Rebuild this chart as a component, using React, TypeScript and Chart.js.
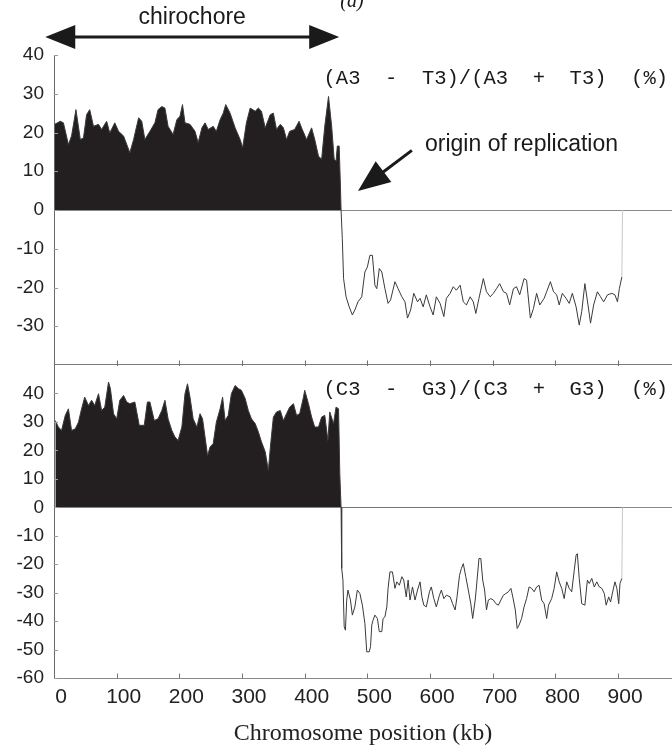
import React, { useEffect, useRef } from 'react';
import { Chart, registerables } from 'chart.js';

Chart.register(...registerables);

// ---------- data ----------
const X_TICKS = [0, 100, 200, 300, 400, 500, 600, 700, 800, 900];
const X_MIN = 0;
const X_MAX = 986;

const TOP_Y_TICKS = [-30, -20, -10, 0, 10, 20, 30, 40];
const BOTTOM_Y_TICKS = [-60, -50, -40, -30, -20, -10, 0, 10, 20, 30, 40];

// (A3 - T3)/(A3 + T3) skew, % ; positions in kb
const AT_POS = [
  1, 10, 15, 23, 28, 35, 42, 47, 52, 57, 63, 71, 76, 84, 89, 97, 103, 111, 121, 127,
  135, 140, 145, 153, 161, 166, 172, 177, 182, 190, 196, 201, 205, 209, 217, 225, 230, 236, 241, 246,
  254, 259, 265, 270, 274, 281, 289, 297, 301, 307, 313, 321, 326, 331, 337, 345, 350, 355, 361, 366,
  371, 376, 384, 391, 395, 403, 411, 416, 422, 427, 432, 438, 443, 447, 450, 452, 455, 457, 458,
  460, 462, 466, 471, 476, 480, 485, 491, 496, 500, 504, 508, 512, 515, 519, 523, 528, 533, 537, 544,
  549, 555, 560, 564, 569, 574, 580, 584, 589, 594, 600, 605, 610, 616, 622, 626, 632, 637, 642, 648,
  653, 658, 664, 669, 673, 678, 685, 690, 696, 701, 706, 711, 717, 722, 727, 733, 738, 743, 750, 754,
  760, 765, 770, 775, 782, 786, 792, 797, 802, 806, 811, 817, 822, 827, 833, 838, 842, 847, 852, 856,
  861, 867, 872, 877, 883, 890, 895, 899, 902, 906, 907,
];
const AT_SKEW = [
  22.1, 22.9, 22.5, 16.9, 19.1, 25.9, 18.2, 18.6, 24.6, 25.9, 21.6, 22.1, 20.8, 22.9, 19.9, 22.5, 20.3, 19.1, 14.8, 18.2,
  23.8, 22.9, 18.2, 20.3, 22.5, 25.9, 26.7, 26.3, 21.6, 19.5, 23.3, 24.2, 27.2, 22.5, 22.1, 20.3, 17.4, 21.2, 22.5, 20.8,
  21.6, 20.3, 23.3, 25.0, 27.2, 25.0, 21.2, 18.2, 16.1, 22.5, 26.3, 25.5, 26.3, 25.5, 21.2, 24.6, 25.0, 20.8, 22.1, 21.2,
  18.2, 20.3, 20.8, 22.9, 21.2, 18.2, 21.2, 18.2, 13.9, 13.1, 21.6, 29.3, 21.6, 13.1, 12.6, 16.5, 16.5, 6.2, 0,
  -7.4, -17.7, -22.4, -25.0, -27.1, -25.8, -23.7, -22.4, -16.0, -14.7, -11.7, -11.7, -19.4, -20.3, -15.1, -16.0, -20.3, -24.1, -23.2, -18.5,
  -20.3, -22.4, -23.7, -27.9, -25.8, -21.5, -23.7, -22.8, -25.0, -21.9, -25.0, -27.1, -22.4, -24.1, -27.5, -22.8, -21.5, -19.8, -20.7, -19.4,
  -23.7, -24.5, -22.4, -23.7, -26.7, -22.8, -17.7, -21.1, -22.4, -21.5, -20.3, -19.0, -21.1, -21.5, -24.5, -20.3, -19.8, -21.9, -17.7, -18.1,
  -27.9, -25.4, -21.5, -24.5, -22.8, -21.1, -18.5, -21.1, -21.9, -24.5, -21.5, -22.8, -24.1, -21.5, -25.0, -29.7, -26.2, -19.0, -24.5, -29.2,
  -24.5, -21.1, -22.4, -23.7, -21.9, -21.5, -21.9, -23.7, -20.3, -17.3, 0,
];

// (C3 - G3)/(C3 + G3) skew, % ; positions in kb
const CG_POS = [
  2, 7, 12, 18, 23, 28, 34, 39, 44, 49, 55, 60, 65, 71, 76, 81, 87, 90, 95, 100,
  105, 111, 116, 121, 129, 136, 144, 149, 153, 160, 166, 172, 177, 182, 188, 193, 198, 204, 209, 213,
  217, 222, 228, 233, 237, 241, 245, 249, 254, 259, 265, 269, 273, 278, 283, 289, 294, 299, 305, 310,
  315, 321, 326, 331, 337, 342, 346, 350, 355, 361, 366, 371, 376, 382, 387, 392, 398, 400, 406, 411,
  416, 422, 427, 432, 437, 440, 446, 450, 454, 456, 458,
  459, 461, 463, 465, 467, 469, 473, 476, 480, 484, 488, 492, 496, 499, 503, 505, 507, 509, 512, 516,
  519, 523, 525, 528, 531, 533, 536, 540, 544, 547, 551, 555, 558, 562, 565, 568, 572, 576, 580, 584,
  587, 590, 594, 599, 602, 606, 610, 615, 618, 622, 626, 632, 636, 640, 643, 647, 650, 653, 657, 661,
  665, 668, 672, 674, 678, 681, 684, 687, 690, 693, 697, 701, 705, 709, 713, 717, 721, 725, 729, 732,
  736, 739, 742, 746, 750, 754, 758, 762, 766, 770, 774, 778, 782, 786, 789, 794, 798, 802, 806, 810,
  814, 818, 822, 826, 830, 833, 835, 838, 842, 847, 851, 854, 858, 862, 866, 870, 874, 878, 881, 885,
  888, 892, 895, 898, 901, 903, 906, 907,
];
const CG_SKEW = [
  30.5, 28.2, 27.0, 32.3, 34.6, 27.0, 27.6, 29.9, 34.6, 38.7, 35.8, 37.6, 35.8, 39.9, 34.0, 35.2, 44.0, 41.7, 32.9, 31.1,
  37.6, 39.3, 37.0, 36.4, 37.0, 28.8, 28.8, 37.0, 37.0, 30.5, 31.1, 34.0, 37.6, 31.1, 27.0, 24.7, 23.5, 28.2, 39.9, 43.4,
  38.7, 31.1, 28.2, 32.9, 31.1, 24.7, 18.2, 21.2, 22.4, 29.9, 34.6, 38.7, 30.5, 32.3, 39.9, 42.8, 41.7, 41.1, 38.2, 34.0,
  31.1, 29.4, 26.5, 23.0, 19.5, 13.0, 23.0, 31.7, 33.5, 34.0, 30.5, 32.9, 35.2, 36.4, 32.3, 32.9, 38.7, 41.1, 36.4, 31.7,
  28.2, 28.2, 31.7, 32.3, 23.5, 33.5, 29.4, 35.2, 34.6, 11.8, 0,
  -21.5, -25.6, -42.0, -43.2, -32.6, -29.1, -32.6, -37.9, -35.0, -29.1, -30.3, -34.4, -40.8, -50.8, -50.8, -49.0, -41.4, -39.7, -37.9, -39.1,
  -43.7, -43.7, -39.1, -38.5, -35.0, -28.5, -22.7, -22.7, -28.5, -26.2, -27.4, -24.4, -25.6, -31.5, -25.6, -32.6, -28.0, -32.6, -29.1, -26.2,
  -31.5, -34.4, -35.0, -29.7, -28.0, -32.1, -35.0, -30.9, -29.1, -32.1, -30.9, -31.5, -33.9, -36.1, -31.5, -23.9, -21.5, -19.8, -24.4, -29.1,
  -33.9, -39.1, -32.6, -28.0, -18.0, -18.0, -25.6, -29.1, -36.1, -32.6, -32.1, -32.6, -33.9, -34.4, -32.6, -30.9, -30.3, -29.7, -28.5, -31.5,
  -36.1, -42.6, -41.4, -39.1, -35.0, -32.1, -28.0, -28.5, -29.7, -28.0, -27.4, -32.6, -33.9, -39.1, -34.4, -32.1, -28.5, -22.7, -26.2, -28.5,
  -32.1, -26.2, -28.5, -29.7, -22.2, -16.8, -16.3, -25.0, -33.9, -34.4, -25.6, -26.8, -25.0, -28.0, -26.2, -28.0, -28.5, -30.3, -34.4, -31.5,
  -33.3, -29.1, -26.2, -28.5, -33.9, -26.8, -25.0, 0,
];

const TOP_LABEL = '(A3  -  T3)/(A3  +  T3)  (%)';
const BOTTOM_LABEL = '(C3  -  G3)/(C3  +  G3)  (%)';
const X_TITLE = 'Chromosome position (kb)';
const REGION_LABEL = 'chirochore';
const REGION_KB = [-14, 455];
const ORIGIN_LABEL = 'origin of replication';
const PANEL_TAG = '(a)';

// ---------- helpers ----------
const W = 672;
const TOP_H = 366;
const BOT_H = 383;
const AXIS_W = 54;
const X_AXIS_H = 70;
const SANS = '"Liberation Sans", Arial, Helvetica, sans-serif';
const MONO = '"Liberation Mono", "Courier New", monospace';

function makeDataset(xs: number[], ys: number[]) {
  return {
    data: xs.map((x, i) => ({ x, y: ys[i] })),
    borderColor: '#3a3a3a',
    borderWidth: 1,
    pointRadius: 0,
    tension: 0,
    fill: { target: 'origin', above: '#231f20', below: 'rgba(0,0,0,0)' },
    segment: {
      borderColor: (c: any) => (c.p1.parsed.y === 0 && c.p0.parsed.x > 900 ? '#c8c8c8' : undefined),
    },
  };
}

function yScale(min: number, max: number, shown: number[]) {
  return {
    type: 'linear',
    min,
    max,
    afterFit: (s: any) => {
      s.width = AXIS_W;
      s.paddingTop = 0;
      s.paddingBottom = 0;
    },
    ticks: {
      stepSize: 10,
      padding: 10,
      color: '#222',
      font: { family: SANS, size: 19 },
      callback: (v: any) => (shown.includes(Number(v)) ? String(v) : null),
    },
    grid: { display: false, drawTicks: false },
    border: { display: true, color: '#6a6a6a', width: 1 },
  };
}

function line(ctx: CanvasRenderingContext2D, x1: number, y1: number, x2: number, y2: number) {
  ctx.beginPath();
  ctx.moveTo(x1, y1);
  ctx.lineTo(x2, y2);
  ctx.stroke();
}

function arrowHead(ctx: CanvasRenderingContext2D, tx: number, ty: number, fx: number, fy: number, len: number, half: number) {
  const dx = tx - fx, dy = ty - fy;
  const L = Math.hypot(dx, dy);
  const ux = dx / L, uy = dy / L;
  const bx = tx - ux * len, by = ty - uy * len;
  ctx.beginPath();
  ctx.moveTo(tx, ty);
  ctx.lineTo(bx - uy * half, by + ux * half);
  ctx.lineTo(bx + uy * half, by - ux * half);
  ctx.closePath();
  ctx.fill();
}

const zeroLinePlugin = {
  id: 'zeroLine',
  beforeDatasetsDraw(chart: any) {
    const { ctx, chartArea: a, scales } = chart;
    const y0 = Math.round(scales.y.getPixelForValue(0)) + 0.5;
    ctx.save();
    ctx.strokeStyle = '#8a8a8a';
    ctx.lineWidth = 1;
    line(ctx, a.left, y0, a.right, y0);
    ctx.restore();
  },
};

function innerYTicks(chart: any, values: number[]) {
  const { ctx, chartArea: a, scales } = chart;
  ctx.save();
  ctx.strokeStyle = '#9a9a9a';
  ctx.lineWidth = 1;
  values.forEach((v) => {
    const py = Math.round(scales.y.getPixelForValue(v)) + 0.5;
    line(ctx, a.left, py, a.left + 4, py);
  });
  ctx.restore();
}

const topDecor = {
  id: 'topDecor',
  afterDraw(chart: any) {
    const { ctx, chartArea: a, scales } = chart;
    const x = scales.x, y = scales.y;
    innerYTicks(chart, TOP_Y_TICKS);

    // divider between panels
    ctx.save();
    const yb = Math.round(a.bottom) - 0.5;
    ctx.strokeStyle = '#7a7a7a';
    ctx.lineWidth = 1;
    line(ctx, a.left, yb, a.right, yb);
    ctx.strokeStyle = '#707070';
    X_TICKS.forEach((v) => {
      if (v === 0) return;
      const px = Math.round(x.getPixelForValue(v)) + 0.5;
      line(ctx, px, yb - 4, px, yb + 4);
    });
    ctx.restore();

    ctx.save();
    ctx.fillStyle = '#1a1a1a';
    ctx.strokeStyle = '#1a1a1a';
    // chirochore double arrow
    const ay = 37;
    const lx = x.getPixelForValue(REGION_KB[0]);
    const rx = x.getPixelForValue(REGION_KB[1]);
    ctx.lineWidth = 3;
    line(ctx, lx + 20, ay, rx - 20, ay);
    arrowHead(ctx, lx, ay, rx, ay, 30, 12);
    arrowHead(ctx, rx, ay, lx, ay, 30, 12);

    ctx.textBaseline = 'middle';
    ctx.textAlign = 'center';
    ctx.font = `23px ${SANS}`;
    ctx.fillText(REGION_LABEL, (lx + rx) / 2, 18);

    ctx.font = 'italic 20px "Liberation Serif", serif';
    ctx.fillText(PANEL_TAG, 352, 2);

    // panel label
    ctx.textAlign = 'right';
    ctx.font = `20.5px ${MONO}`;
    ctx.fillText(TOP_LABEL, 668, 79);

    // origin of replication
    ctx.textAlign = 'left';
    ctx.font = `23px ${SANS}`;
    ctx.fillText(ORIGIN_LABEL, 425, 145);
    const tipX = x.getPixelForValue(485), tipY = y.getPixelForValue(4.9);
    const tailX = x.getPixelForValue(571), tailY = y.getPixelForValue(15.4);
    ctx.lineWidth = 3;
    line(ctx, tailX, tailY, tipX + (tailX - tipX) * 0.4, tipY + (tailY - tipY) * 0.4);
    arrowHead(ctx, tipX, tipY, tailX, tailY, 32, 13);
    ctx.restore();
  },
};

const bottomDecor = {
  id: 'bottomDecor',
  afterDraw(chart: any) {
    const { ctx, chartArea: a, scales } = chart;
    const x = scales.x;
    innerYTicks(chart, BOTTOM_Y_TICKS);
    ctx.save();
    ctx.strokeStyle = '#777';
    ctx.lineWidth = 1;
    const yb = Math.round(a.bottom) + 0.5;
    X_TICKS.forEach((v) => {
      if (v === 0) return;
      const px = Math.round(x.getPixelForValue(v)) + 0.5;
      line(ctx, px, yb - 5, px, yb);
    });
    ctx.fillStyle = '#1a1a1a';
    ctx.textBaseline = 'middle';
    ctx.textAlign = 'right';
    ctx.font = `20.5px ${MONO}`;
    ctx.fillText(BOTTOM_LABEL, 668, 25);
    ctx.restore();
  },
};

function xScaleBase() {
  return {
    type: 'linear',
    min: X_MIN,
    max: X_MAX,
  };
}

export default function App() {
  const topRef = useRef<HTMLCanvasElement | null>(null);
  const botRef = useRef<HTMLCanvasElement | null>(null);

  useEffect(() => {
    document.body.style.margin = '0';
    const top = new Chart(topRef.current as HTMLCanvasElement, {
      type: 'line',
      data: { datasets: [makeDataset(AT_POS, AT_SKEW) as any] },
      options: {
        animation: false,
        responsive: false,
        events: [],
        layout: { padding: { top: 55, bottom: 1, left: 0, right: 0 } },
        plugins: { legend: { display: false }, tooltip: { enabled: false } },
        scales: {
          x: {
            ...xScaleBase(),
            afterFit: (s: any) => {
              s.height = 0;
              s.paddingLeft = 0;
              s.paddingRight = 0;
            },
            ticks: { display: false, stepSize: 100, includeBounds: false },
            grid: { display: false, drawTicks: false },
            border: { display: false },
          } as any,
          y: yScale(-40, 40, TOP_Y_TICKS) as any,
        },
      },
      plugins: [zeroLinePlugin, topDecor],
    });

    const bottom = new Chart(botRef.current as HTMLCanvasElement, {
      type: 'line',
      data: { datasets: [makeDataset(CG_POS, CG_SKEW) as any] },
      options: {
        animation: false,
        responsive: false,
        events: [],
        layout: { padding: { top: 0, bottom: 0, left: 0, right: 0 } },
        plugins: { legend: { display: false }, tooltip: { enabled: false } },
        scales: {
          x: {
            ...xScaleBase(),
            afterFit: (s: any) => {
              s.height = X_AXIS_H;
              s.paddingLeft = 0;
              s.paddingRight = 0;
            },
            ticks: {
              stepSize: 100,
              includeBounds: false,
              padding: 7,
              labelOffset: 7,
              maxRotation: 0,
              autoSkip: false,
              color: '#222',
              font: { family: SANS, size: 21 },
              callback: (v: any) => (X_TICKS.includes(Number(v)) ? String(v) : null),
            },
            grid: { display: false, drawTicks: false },
            border: { display: true, color: '#8a8a8a', width: 1, dash: [2, 1] },
            title: {
              display: true,
              text: X_TITLE,
              color: '#222',
              font: { family: '"Liberation Serif", "Times New Roman", serif', size: 24 },
              padding: { top: 0, bottom: 0 },
            },
          } as any,
          y: yScale(-60, 50, BOTTOM_Y_TICKS) as any,
        },
      },
      plugins: [zeroLinePlugin, bottomDecor],
    });

    return () => {
      top.destroy();
      bottom.destroy();
    };
  }, []);

  return (
    <div style={{ position: 'relative', width: W, height: 748, background: '#fff' }}>
      <canvas
        ref={topRef}
        width={W}
        height={TOP_H}
        style={{ position: 'absolute', left: 0, top: 0, width: W, height: TOP_H }}
      />
      <canvas
        ref={botRef}
        width={W}
        height={BOT_H}
        style={{ position: 'absolute', left: 0, top: TOP_H - 1, width: W, height: BOT_H }}
      />
    </div>
  );
}
